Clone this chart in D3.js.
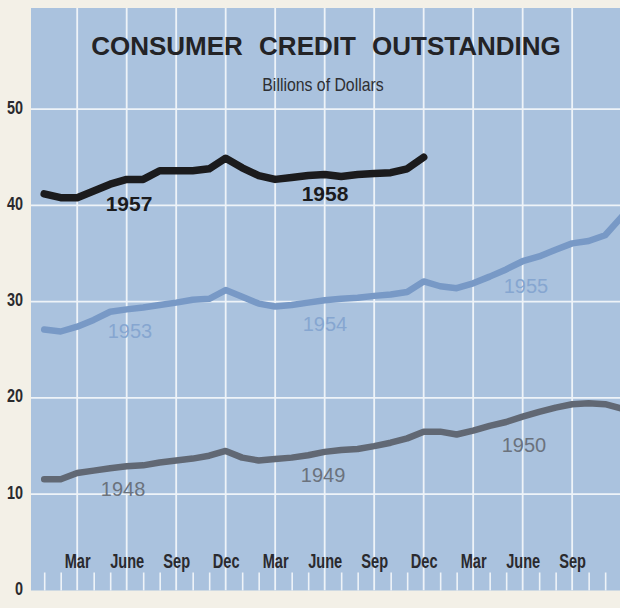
<!DOCTYPE html>
<html>
<head>
<meta charset="utf-8">
<script src="https://cdn.jsdelivr.net/npm/d3@7"></script>
<style>
  html, body { margin: 0; padding: 0; background: #f3f0e7; }
  svg { display: block; }
  text { font-family: "Liberation Sans", Arial, sans-serif; }
</style>
</head>
<body>
<svg id="chart" width="620" height="608"></svg>
<script>
// Consumer credit outstanding, billions of dollars, monthly (Jan of first year = index 0)
const series1948to1950 = [11.55, 11.55, 12.2, 12.45, 12.7, 12.9, 13.0, 13.3, 13.5, 13.7, 14.0, 14.5,
                          13.8, 13.5, 13.65, 13.8, 14.05, 14.4, 14.6, 14.7, 15.0, 15.35, 15.8, 16.5,
                          16.5, 16.2, 16.6, 17.1, 17.5, 18.05, 18.55, 19.0, 19.35, 19.45, 19.35, 18.9];
const series1953to1955 = [27.1, 26.9, 27.4, 28.1, 28.95, 29.2, 29.4, 29.65, 29.9, 30.2, 30.3, 31.2,
                          30.5, 29.8, 29.5, 29.65, 29.9, 30.15, 30.3, 30.4, 30.6, 30.75, 31.0, 32.1,
                          31.6, 31.4, 31.9, 32.6, 33.35, 34.2, 34.7, 35.4, 36.05, 36.3, 36.9, 38.8];
const series1957to1958 = [41.2, 40.8, 40.8, 41.5, 42.2, 42.7, 42.7, 43.6, 43.6, 43.6, 43.8, 44.9,
                          43.9, 43.1, 42.7, 42.9, 43.1, 43.2, 43.0, 43.2, 43.3, 43.4, 43.8, 45.0];

const monthTickLabels = ["Mar", "June", "Sep", "Dec", "Mar", "June", "Sep", "Dec", "Mar", "June", "Sep"];
const valueTicks = [0, 10, 20, 30, 40, 50];
const yearLabels1948 = ["1948", "1949", "1950"];
const yearLabels1953 = ["1953", "1954", "1955"];
const yearLabels1957 = ["1957", "1958"];

const svg = d3.select("#chart");
const plot = { left: 31, top: 8, right: 620, bottom: 590.5 };

const x = d3.scaleLinear().domain([-0.8, 34.9]).range([plot.left, plot.right]);
const y = d3.scaleLinear().domain([0, 60.5]).range([plot.bottom, plot.top]);

// plot panel
svg.append("rect")
  .attr("x", plot.left).attr("y", plot.top)
  .attr("width", plot.right - plot.left).attr("height", plot.bottom - plot.top)
  .attr("fill", "#aac2de");

svg.append("clipPath").attr("id", "plotClip")
  .append("rect")
  .attr("x", plot.left).attr("y", plot.top)
  .attr("width", plot.right - plot.left).attr("height", plot.bottom - plot.top);

const months = d3.range(0, 36);
const quarterMonths = months.filter(m => m % 3 === 2);
const otherMonths = months.filter(m => m % 3 !== 2);

const grid = svg.append("g").attr("clip-path", "url(#plotClip)");

// vertical quarter lines
grid.selectAll("line.vq").data(quarterMonths).join("line")
  .attr("class", "vq")
  .attr("x1", d => x(d)).attr("x2", d => x(d))
  .attr("y1", plot.top).attr("y2", plot.bottom)
  .attr("stroke", "#eef3f8").attr("stroke-width", 1.8);

// horizontal value lines
grid.selectAll("line.hv").data(valueTicks.filter(v => v > 0)).join("line")
  .attr("class", "hv")
  .attr("x1", plot.left).attr("x2", plot.right)
  .attr("y1", d => y(d)).attr("y2", d => y(d))
  .attr("stroke", "#eef3f8").attr("stroke-width", 1.8);

// short monthly ticks along the base
const minorAxis = d3.axisBottom(x).tickValues(otherMonths).tickSize(18).tickFormat("");
const minorG = svg.append("g").attr("transform", `translate(0,${plot.bottom})`).call(minorAxis);
minorG.select(".domain").remove();
minorG.selectAll(".tick line")
  .attr("y1", 0).attr("y2", -18)
  .attr("stroke", "#eef3f8").attr("stroke-width", 1.6);

// month labels
const monthAxis = d3.axisBottom(x)
  .tickValues(quarterMonths.slice(0, monthTickLabels.length))
  .tickSize(0)
  .tickFormat((d, i) => monthTickLabels[i]);
const monthG = svg.append("g").attr("transform", `translate(0,${plot.bottom})`).call(monthAxis);
monthG.select(".domain").remove();
monthG.selectAll(".tick text")
  .attr("y", -22.5).attr("dy", null)
  .attr("transform", "scale(0.73,1)")
  .attr("font-size", 20).attr("font-weight", "bold")
  .attr("fill", "#2a2a2e").attr("font-family", "'Liberation Sans', Arial, sans-serif")
  .attr("text-anchor", "middle");

// value labels
const valueAxis = d3.axisLeft(y).tickValues(valueTicks).tickSize(0).tickFormat(d3.format("d"));
const valueG = svg.append("g").attr("transform", "translate(23,0)").call(valueAxis);
valueG.select(".domain").remove();
valueG.selectAll(".tick text")
  .attr("x", 0).attr("dy", null).attr("y", 4)
  .attr("transform", "scale(0.8,1)")
  .attr("font-size", 18).attr("font-weight", "bold")
  .attr("fill", "#2a2a2e").attr("font-family", "'Liberation Sans', Arial, sans-serif")
  .attr("text-anchor", "end");

// lines
const line = d3.line().x((d, i) => x(i)).y(d => y(d)).curve(d3.curveLinear);
const lines = svg.append("g").attr("clip-path", "url(#plotClip)");
const seriesStyles = [
  { data: series1948to1950, color: "#616874", width: 6.5 },
  { data: series1953to1955, color: "#7899c6", width: 6.5 },
  { data: series1957to1958, color: "#1b1b1d", width: 7.5 }
];
seriesStyles.forEach(s => {
  lines.append("path")
    .datum(s.data)
    .attr("d", line)
    .attr("fill", "none")
    .attr("stroke", s.color)
    .attr("stroke-width", s.width)
    .attr("stroke-linecap", "round")
    .attr("stroke-linejoin", "round");
});

// year annotations, placed by month index and value
const yearSpots = [
  { labels: yearLabels1948, at: [[4.78, 9.8], [16.9, 11.27], [29.08, 14.38]], color: "#6b727d", weight: "normal", size: 20 },
  { labels: yearLabels1953, at: [[5.2, 26.2], [17.02, 26.95], [29.2, 30.9]], color: "#86a6d0", weight: "normal", size: 20 },
  { labels: yearLabels1957, at: [[5.14, 39.4], [17.02, 40.45]], color: "#1b1b1d", weight: "bold", size: 21 }
];
yearSpots.forEach(g => {
  g.labels.forEach((t, i) => {
    svg.append("text")
      .attr("x", x(g.at[i][0])).attr("y", y(g.at[i][1]))
      .attr("text-anchor", "middle")
      .attr("font-size", g.size).attr("font-weight", g.weight)
      .attr("fill", g.color)
      .text(t);
  });
});

// title and subtitle
svg.append("text")
  .attr("x", 326).attr("y", 55)
  .attr("text-anchor", "middle")
  .attr("font-size", 26).attr("font-weight", "bold")
  .attr("word-spacing", 9)
  .attr("fill", "#232326")
  .text("CONSUMER CREDIT OUTSTANDING");

svg.append("text")
  .attr("transform", "translate(323,90.7) scale(0.88,1)")
  .attr("text-anchor", "middle")
  .attr("font-size", 18)
  .attr("fill", "#2e2f33")
  .text("Billions of Dollars");
</script>
</body>
</html>
